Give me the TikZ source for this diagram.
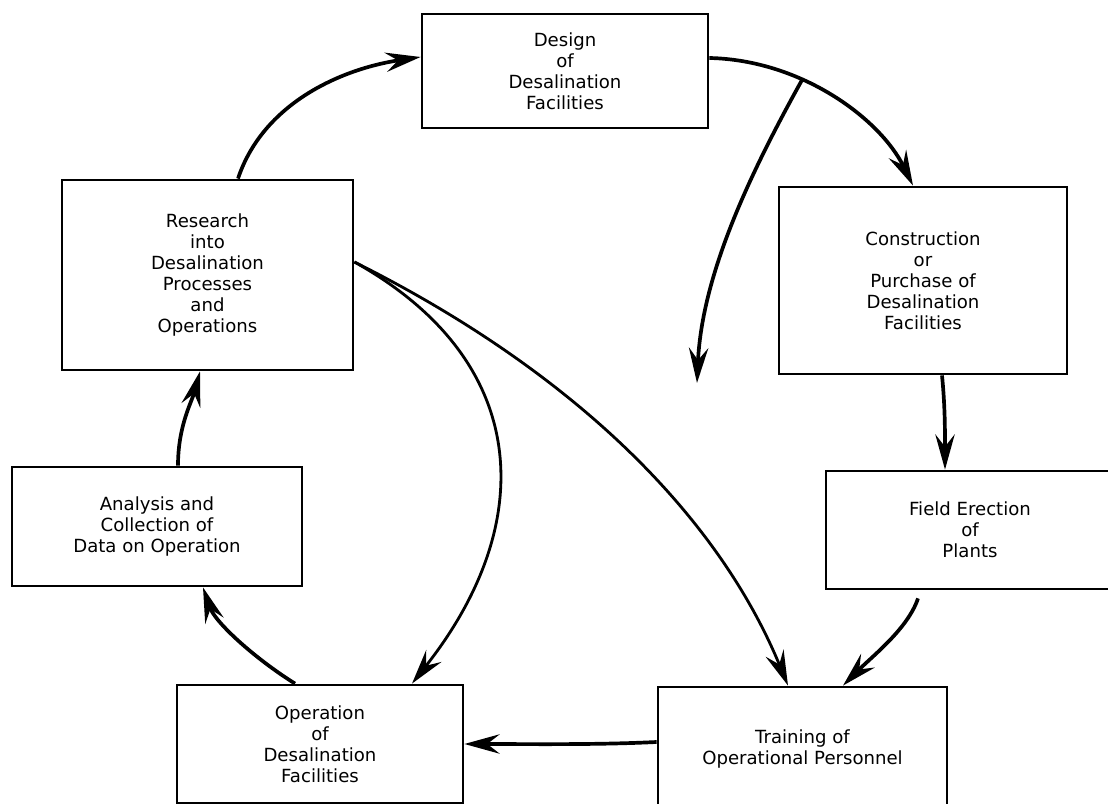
\documentclass[tikz,border=0pt]{standalone}
\usepackage{fontspec}
\setmainfont{DejaVu Sans}
\usepackage{tikz}
\usetikzlibrary{arrows.meta}

\tikzset{
  stagebox/.style={draw, line width=1.6pt, align=center, inner sep=0pt,
    font=\fontsize{10.3}{11.9}\selectfont},
  flow/.style={line width=2.1pt, -{Stealth[length=20pt,width=11pt,inset=7pt]}},
  thinflow/.style={flow, line width=1.6pt},
}

\begin{document}
\begin{tikzpicture}[x=0.2mm,y=-0.2mm]

        \useasboundingbox (0,0) rectangle (1108,804);

        % stages of the cycle
        \node[stagebox, minimum width=57.2mm, minimum height=22.8mm] (dsgn) at (565,71) {Design\\of\\Desalination\\Facilities};
        \node[stagebox, minimum width=57.6mm, minimum height=37.4mm] (cons) at (923,280.5) {Construction\\or\\Purchase of\\Desalination\\Facilities};
        \node[stagebox, minimum width=57.6mm, minimum height=23.6mm] (fld) at (970,530) {Field Erection\\of\\Plants};
        \node[stagebox, minimum width=57.8mm, minimum height=24.8mm] (trn) at (802.5,749) {Training of\\Operational Personnel};
        \node[stagebox, minimum width=57.2mm, minimum height=23.6mm] (oper) at (320,744) {Operation\\of\\Desalination\\Facilities};
        \node[stagebox, minimum width=58mm, minimum height=23.8mm] (anl) at (157,526.5) {Analysis and\\Collection of\\Data on Operation};
        \node[stagebox, minimum width=58.2mm, minimum height=38mm] (rsch) at (207.5,275) {Research\\into\\Desalination\\Processes\\and\\Operations};

        \coordinate (gap) at (697,383);

        % outer loop
        \draw[flow] ([xshift=6.1mm]rsch.north) .. controls +(25,-75) and +(-80,12) .. ([yshift=2.8mm]dsgn.west);
        \draw[flow] ([yshift=2.6mm]dsgn.east) .. controls +(92,2) and +(-33,-67) .. coordinate[pos=0.36] (fork) ([xshift=-2mm]cons.north);
        \draw[flow] (fork) .. controls +(-50,90) and +(5,-110) .. (gap);
        \draw[flow] ([xshift=3.8mm]cons.south) .. controls +(3,30) and +(0,-40) .. ([xshift=-5mm]fld.north);
        \draw[flow] ([xshift=-10.4mm,yshift=-1.6mm]fld.south) .. controls +(-10,30) and +(30,-30) .. ([xshift=8.1mm]trn.north);
        \draw[flow] ([yshift=1.4mm]trn.west) .. controls +(-60,3) and +(60,0) .. (oper.east);
        \draw[flow] ([xshift=-5mm]oper.north) .. controls +(-40,-25) and +(12,35) .. ([xshift=9.2mm]anl.south);
        \draw[flow] ([xshift=4.2mm]anl.north) .. controls +(0,-40) and +(-8,30) .. ([xshift=-1.5mm]rsch.south);

        % research feeds forward
        \draw[thinflow] ([yshift=2.6mm]rsch.east) .. controls +(220,110) and +(-70,-170) .. ([xshift=-2.9mm]trn.north);
        \draw[thinflow] ([yshift=2.6mm]rsch.east) .. controls +(176,98) and +(128,-162) .. ([xshift=18.4mm]oper.north);

\end{tikzpicture}
\end{document}
